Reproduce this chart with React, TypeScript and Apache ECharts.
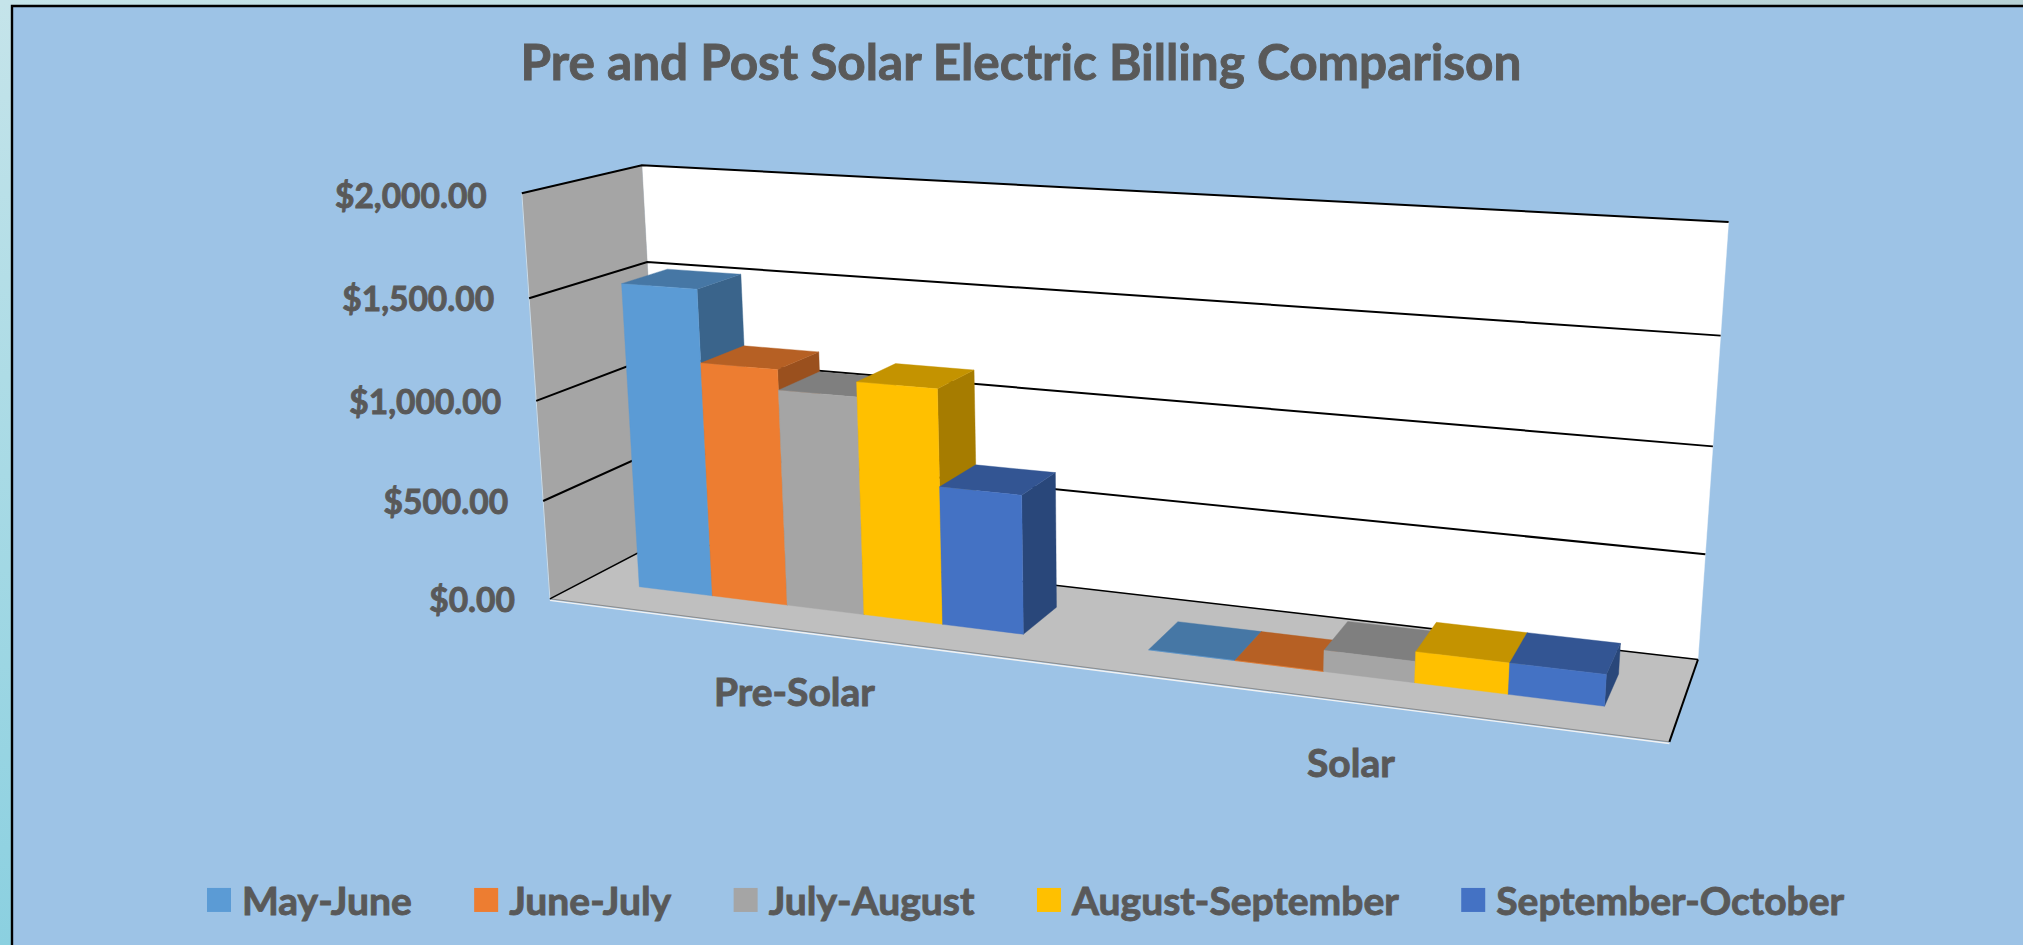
import React, { useEffect, useRef } from "react";
import * as echarts from "echarts";

const W = 2023;
const H = 945;

const categories = ["Pre-Solar", "Solar"];
const mayJune = [1535, 0];
const juneJuly = [1175, 0];
const julyAugust = [1075, 100];
const augustSeptember = [1148, 145];
const septemberOctober = [678, 145];
const yTicks = [0, 500, 1000, 1500, 2000];
const yLabels = ["$0.00", "$500.00", "$1,000.00", "$1,500.00", "$2,000.00"];
const title = "Pre and Post Solar Electric Billing Comparison";

const seriesDefs = [
  { name: "May-June", values: mayJune, front: "#5B9BD5", top: "#4677A5", side: "#3A648B" },
  { name: "June-July", values: juneJuly, front: "#ED7D31", top: "#B66024", side: "#9A501E" },
  { name: "July-August", values: julyAugust, front: "#A5A5A5", top: "#7F7F7F", side: "#6B6B6B" },
  { name: "August-September", values: augustSeptember, front: "#FFC000", top: "#C49300", side: "#A67C00" },
  { name: "September-October", values: septemberOctober, front: "#4472C4", top: "#335593", side: "#29477A" },
];

const FONT = "Lato, 'Noto Sans', sans-serif";
const INK = "#595959";
const GAP_WIDTH = 1.5;
const DEPTH_FROM = 0.3;
const DEPTH_TO = 0.7;

// Calibration of the 3D box: (u, v, h) -> picture position
const anchors: number[][] = [
  [0, 0, 0, 550, 598.3],
  [0, 0, 1, 521.7, 193.3],
  [0, 1, 1, 642, 165],
  [0, 1, 0, 662.5, 540.5],
  [1, 1, 0, 1698, 659],
  [1, 1, 1, 1728.6, 222],
  [1, 0, 0, 1669.4, 742.3],
];

function solveCamera(): number[] {
  const rows: number[][] = [];
  const rhs: number[] = [];
  anchors.forEach(([u, v, h, x, y]) => {
    rows.push([u, v, h, 1, 0, 0, 0, 0, -x * u, -x * v, -x * h]);
    rhs.push(x);
    rows.push([0, 0, 0, 0, u, v, h, 1, -y * u, -y * v, -y * h]);
    rhs.push(y);
  });
  const n = 11;
  const A: number[][] = [];
  for (let i = 0; i < n; i++) {
    const r = new Array(n + 1).fill(0);
    rows.forEach((row, k) => {
      for (let j = 0; j < n; j++) r[j] += row[i] * row[j];
      r[n] += row[i] * rhs[k];
    });
    A.push(r);
  }
  for (let i = 0; i < n; i++) {
    let p = i;
    for (let k = i + 1; k < n; k++) if (Math.abs(A[k][i]) > Math.abs(A[p][i])) p = k;
    [A[i], A[p]] = [A[p], A[i]];
    for (let k = 0; k < n; k++) {
      if (k === i) continue;
      const f = A[k][i] / A[i][i];
      for (let j = i; j <= n; j++) A[k][j] -= f * A[i][j];
    }
  }
  return A.map((r, i) => r[n] / r[i]);
}

const cam = solveCamera();
function project(u: number, v: number, h: number): number[] {
  const d = cam[8] * u + cam[9] * v + cam[10] * h + 1;
  return [
    (cam[0] * u + cam[1] * v + cam[2] * h + cam[3]) / d,
    (cam[4] * u + cam[5] * v + cam[6] * h + cam[7]) / d,
  ];
}

function poly(points: number[][], fill: string) {
  return { type: "polygon", shape: { points }, style: { fill, stroke: fill, lineWidth: 0.4 }, silent: true };
}
function stroke(points: number[][], color: string, lineWidth: number) {
  return { type: "polyline", shape: { points }, style: { fill: "none", stroke: color, lineWidth }, silent: true };
}
function label(text: string, x: number, y: number, align: string, fontSize: number) {
  return {
    type: "text",
    x,
    y,
    silent: true,
    style: {
      text,
      x: 0,
      y: 0,
      align,
      verticalAlign: "middle",
      fill: INK,
      fontFamily: FONT,
      fontWeight: "bold",
      fontSize,
      stroke: INK,
      lineWidth: 0.9,
    },
  };
}

function renderFrame(_params: any, api: any) {
  const hOf = (val: number) => (H - api.coord([0, val])[1]) / H;
  const children: any[] = [];
  children.push(poly([project(0, 1, 0), project(1, 1, 0), project(1, 1, 1), project(0, 1, 1)], "#FFFFFF"));
  children.push(poly([project(0, 0, 0), project(0, 1, 0), project(0, 1, 1), project(0, 0, 1)], "#A5A5A5"));
  children.push(poly([project(0, 0, 0), project(1, 0, 0), project(1, 1, 0), project(0, 1, 0)], "#BFBFBF"));
  const fl = project(0, 0, 0);
  const fr = project(1, 0, 0);
  children.push(stroke([[fl[0], fl[1] + 1.6], [fr[0], fr[1] + 1.6]], "#F2F2F2", 1.4));
  children.push(stroke([fl, fr], "#8C8C8C", 1));
  children.push(stroke([project(0, 0, 0), project(0, 0, 1)], "#C9DCEB", 1));
  yTicks.forEach((t, i) => {
    const h = hOf(t);
    const a = project(0, 0, h);
    children.push(stroke([a, project(0, 1, h), project(1, 1, h)], "#000000", t === 0 ? 1.5 : 2));
    children.push(label(yLabels[i], a[0] - 35, a[1] + (t === 2000 ? 2 : 0), "right", 33.5));
  });
  children.push(stroke([project(1, 1, 0), project(1, 0, 0)], "#000000", 2));
  categories.forEach((c, i) => {
    const p = project(api.coord([i, 0])[0] / W, 0, 0);
    children.push(label(c, p[0], p[1] + 61, "center", 39));
  });
  return { type: "group", children };
}

function makeBarRenderer(k: number) {
  const def = seriesDefs[k];
  return (_params: any, api: any) => {
    const cat = api.value(0);
    const val = api.value(1);
    const pt = api.coord([cat, val]);
    const band = api.size([1, 0])[0] / W;
    const barW = band / (seriesDefs.length + GAP_WIDTH);
    const u0 = pt[0] / W - band / 2 + (barW * GAP_WIDTH) / 2 + k * barW;
    const u1 = u0 + barW;
    const h = (H - pt[1]) / H;
    const v0 = DEPTH_FROM;
    const v1 = DEPTH_TO;
    return {
      type: "group",
      children: [
        poly([project(u1, v0, 0), project(u1, v1, 0), project(u1, v1, h), project(u1, v0, h)], def.side),
        poly([project(u0, v0, h), project(u1, v0, h), project(u1, v1, h), project(u0, v1, h)], def.top),
        poly([project(u0, v0, 0), project(u1, v0, 0), project(u1, v0, h), project(u0, v0, h)], def.front),
      ],
    };
  };
}

export default function App() {
  const ref = useRef<HTMLDivElement>(null);
  useEffect(() => {
    document.body.style.margin = "0";
    document.body.style.overflow = "hidden";
    const chart = echarts.init(ref.current!, undefined, { renderer: "svg", width: W, height: H });
    chart.setOption({
      animation: false,
      backgroundColor: "transparent",
      title: {
        text: title,
        left: 1016,
        top: 31,
        textAlign: "center",
        textStyle: {
          fontFamily: FONT,
          fontWeight: "bold",
          fontSize: 49.5,
          color: INK,
          textBorderColor: INK,
          textBorderWidth: 0.9,
        },
      },
      legend: {
        left: 207,
        top: 880,
        padding: 0,
        itemWidth: 24,
        itemHeight: 24,
        itemGap: 62,
        icon: "rect",
        data: seriesDefs.map((s) => s.name),
        textStyle: {
          fontFamily: FONT,
          fontWeight: "bold",
          fontSize: 39,
          color: INK,
          textBorderColor: INK,
          textBorderWidth: 0.9,
          padding: [0, 0, 0, 6],
        },
      },
      grid: { left: 0, right: 0, top: 0, bottom: 0 },
      xAxis: { type: "category", data: categories, show: false },
      yAxis: { type: "value", min: 0, max: 2000, interval: 500, show: false },
      graphic: [
        {
          type: "rect",
          shape: { x: 0, y: 0, width: W, height: H },
          style: {
            fill: new echarts.graphic.LinearGradient(0, 0, 0, 1, [
              { offset: 0, color: "#C5E4EA" },
              { offset: 1, color: "#8BD0E0" },
            ]),
          },
          silent: true,
        },
        {
          type: "rect",
          shape: { x: 0, y: 0, width: W, height: 6 },
          style: {
            fill: new echarts.graphic.LinearGradient(0, 0, 1, 0, [
              { offset: 0, color: "#C5E4EA" },
              { offset: 1, color: "#B8D2D6" },
            ]),
          },
          silent: true,
        },
        {
          type: "rect",
          shape: { x: 12, y: 6, width: W, height: H },
          style: { fill: "#9DC3E6", stroke: "#000000", lineWidth: 2.4 },
          silent: true,
        },
      ],
      series: [
        { type: "custom", name: "frame", renderItem: renderFrame, data: [[0, 0]], silent: true, z: 2 },
        ...seriesDefs.map((s, k) => ({
          type: "custom",
          name: s.name,
          renderItem: makeBarRenderer(k),
          itemStyle: { color: s.front },
          data: s.values.map((v, i) => [i, v]),
          encode: { x: 0, y: 1 },
          silent: true,
          z: 3,
        })),
      ],
    });
    return () => chart.dispose();
  }, []);
  return <div ref={ref} style={{ width: W, height: H, position: "absolute", left: 0, top: 0 }} />;
}
